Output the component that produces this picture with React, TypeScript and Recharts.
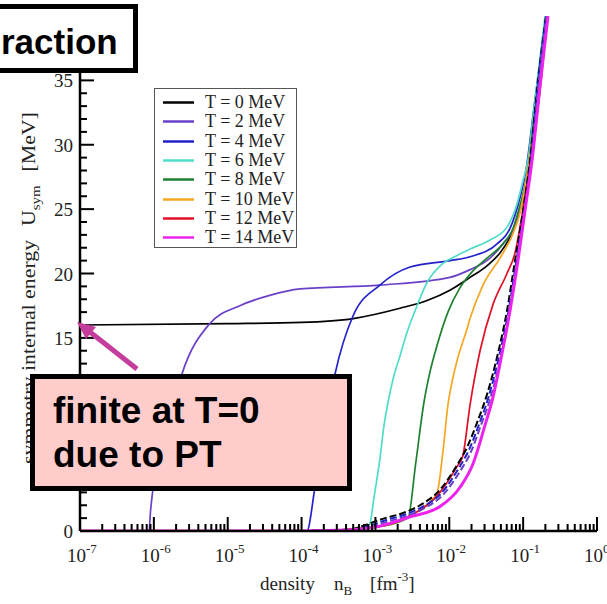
import React from "react";
import { LineChart, Line, XAxis, YAxis, Legend } from "recharts";

// density n_B [fm^-3] vs symmetry internal energy U_sym [MeV]
const t0 = [[1e-7, 16.0], [1e-5, 16.1], [1e-4, 16.2], [5e-4, 16.5], [2.15e-3, 17.3], [5e-3, 17.9], [0.0102, 18.7], [0.0191, 19.7], [0.0324, 20.6], [0.0486, 21.6], [0.0664, 22.8], [0.0851, 24.3], [0.106, 26.4], [0.132, 29.5], [0.162, 33.4], [0.204, 40]];
const t2 = [[1e-7, 0], [8.6e-7, 0], [9.0e-7, 1.5], [9.7e-7, 3.2], [1.4e-6, 7.0], [2.4e-6, 12.2], [5.7e-6, 16.1], [1.46e-5, 17.5], [3.7e-5, 18.3], [9.5e-5, 18.8], [1.15e-3, 19.1], [0.0102, 19.7], [0.0191, 20.3], [0.0356, 21.2], [0.0533, 22.3], [0.0776, 23.7], [0.0964, 25.7], [0.124, 28.8], [0.159, 33.4], [0.204, 40]];
const t4 = [[1e-7, 0], [1.18e-4, 0], [1.52e-4, 3.4], [2.0e-4, 7.5], [2.84e-4, 12.2], [4.97e-4, 16.7], [1.15e-3, 19.1], [2.94e-3, 20.5], [0.0102, 21.0], [0.0191, 21.3], [0.0443, 22.3], [0.0664, 23.5], [0.0851, 25.3], [0.109, 28.0], [0.144, 33.4], [0.204, 40]];
const t6 = [[1e-7, 0], [1e-4, 0], [7.0e-4, 0.2], [8.43e-4, 0.6], [9.5e-4, 2.5], [1.15e-3, 5.6], [1.3e-3, 8.1], [1.48e-3, 10.0], [1.75e-3, 11.9], [2.15e-3, 13.6], [2.7e-3, 15.5], [3.44e-3, 17.1], [4.99e-3, 19.3], [7.5e-3, 20.6], [0.0127, 21.4], [0.0191, 21.9], [0.0356, 22.6], [0.0604, 23.6], [0.0826, 25.4], [0.0995, 27.2], [0.116, 28.8], [0.144, 33.4], [0.198, 40]];
const t8 = [[1e-7, 0], [1e-4, 0], [1e-3, 0.3], [2.76e-3, 1.0], [3.5e-3, 5.2], [4.54e-3, 10.0], [5.5e-3, 12.4], [6.82e-3, 14.4], [9.59e-3, 17.0], [0.014, 18.9], [0.0209, 20.2], [0.0324, 21.2], [0.0533, 22.3], [0.0728, 23.5], [0.0906, 25.3], [0.113, 27.6], [0.144, 32.6], [0.204, 40]];
const t10 = [[1e-7, 0], [1e-4, 0], [1e-3, 0.3], [3e-3, 1.2], [6.0e-3, 2.5], [6.82e-3, 2.9], [8.22e-3, 6.2], [9.59e-3, 9.8], [0.0112, 11.9], [0.0127, 13.2], [0.0174, 15.7], [0.0191, 16.5], [0.0286, 19.1], [0.0486, 21.2], [0.0728, 23.1], [0.0906, 24.7], [0.106, 26.7], [0.132, 30.3], [0.169, 35.0], [0.21, 40]];
const t12 = [[1e-7, 0], [1e-4, 0], [1e-3, 0.3], [3e-3, 1.2], [7.5e-3, 3.0], [0.0127, 5.0], [0.0152, 5.8], [0.0191, 9.8], [0.0261, 14.0], [0.0391, 17.6], [0.0604, 20.0], [0.0776, 21.6], [0.0906, 23.6], [0.109, 26.4], [0.136, 30.3], [0.169, 34.2], [0.21, 40]];
const t14 = [[1e-7, 0], [1e-4, 0], [3e-4, 0.05], [9.86e-4, 0.3], [2.94e-3, 1.1], [7.48e-3, 1.9], [0.014, 3.4], [0.0209, 5.2], [0.0304, 8.2], [0.0391, 10.4], [0.0486, 13.0], [0.0664, 17.1], [0.0851, 21.0], [0.106, 24.9], [0.132, 28.8], [0.169, 34.5], [0.217, 40]];

// dashed curves (no phase transition)
const dashBlack = [[1e-4, 0], [4e-4, 0.1], [1.35e-3, 1.0], [2.36e-3, 1.4], [4.01e-3, 2.0], [7.48e-3, 3.2], [0.0127, 5.1], [0.0174, 6.5], [0.0237, 8.4], [0.0324, 10.6], [0.0443, 13.5], [0.0604, 17.1], [0.0776, 21.0], [0.0964, 24.3], [0.124, 28.8], [0.159, 35], [0.204, 40]];
const dashBlue = [[1e-4, 0], [5e-4, 0.1], [1.48e-3, 0.9], [2.6e-3, 1.3], [4.4e-3, 1.9], [8.0e-3, 3.0], [0.0135, 4.9], [0.0185, 6.3], [0.025, 8.2], [0.034, 10.4], [0.046, 13.3], [0.063, 17.0], [0.08, 20.8], [0.099, 24.2], [0.126, 28.6], [0.161, 35], [0.206, 40]];
const dashPurple = [[1e-4, 0], [6e-4, 0.1], [1.6e-3, 0.8], [2.8e-3, 1.2], [4.7e-3, 1.8], [8.5e-3, 2.9], [0.0142, 4.7], [0.0195, 6.1], [0.026, 8.0], [0.0355, 10.2], [0.048, 13.1], [0.065, 16.9], [0.082, 20.7], [0.101, 24.1], [0.128, 28.6], [0.163, 35], [0.207, 40]];

const seriesNames = ["T = 0 MeV", "T = 2 MeV", "T = 4 MeV", "T = 6 MeV", "T = 8 MeV", "T = 10 MeV", "T = 12 MeV", "T = 14 MeV"];
const seriesColors = ["#000000", "#6a40c8", "#2222cc", "#50dcc8", "#1f8030", "#f5a623", "#e01028", "#ee22ee"];
const seriesData = [t0, t2, t4, t6, t8, t10, t12, t14];

const xDecades = [1e-7, 1e-6, 1e-5, 1e-4, 1e-3, 1e-2, 1e-1, 1];
const xExponents = ["-7", "-6", "-5", "-4", "-3", "-2", "-1", "0"];
// 40 sits under the boxed title in the reference, so it is not labelled
const yLabels = [0, 5, 10, 15, 20, 25, 30, 35];

const xTicks: number[] = [];
xDecades.forEach((d, i) => {
  xTicks.push(d);
  if (i < xDecades.length - 1) for (let k = 2; k <= 9; k++) xTicks.push(d * k);
});
const yTicks: number[] = [];
for (let v = 0; v <= 40; v++) yTicks.push(v);

const pts = (rows: number[][]) => rows.map(([n, u]) => ({ n, u }));

const serif = '"Liberation Serif", "Times New Roman", serif';
const sans = '"Liberation Sans", Arial, sans-serif';

const XTick = (props: any) => {
  const { x, y, payload, top } = props;
  const i = xDecades.indexOf(payload.value);
  const len = i >= 0 ? 14 : 7;
  if (top) return <line x1={x} x2={x} y1={y} y2={y + len} stroke="#000" strokeWidth={2} />;
  return (
    <g>
      <line x1={x} x2={x} y1={y} y2={y - len} stroke="#000" strokeWidth={2} />
      {i >= 0 && (
        <text x={x - 13} y={y + 31} fontFamily={serif} fontSize={19} fill="#222">
          <tspan>10</tspan>
          <tspan dy={-9} fontSize={13}>{xExponents[i]}</tspan>
        </text>
      )}
    </g>
  );
};

const YTick = (props: any) => {
  const { x, y, payload, right } = props;
  const major = payload.value % 5 === 0;
  const len = major ? 14 : 7;
  if (right) return <line x1={x} x2={x - len} y1={y} y2={y} stroke="#000" strokeWidth={2} />;
  return (
    <g>
      <line x1={x} x2={x + len} y1={y} y2={y} stroke="#000" strokeWidth={2} />
      {yLabels.includes(payload.value) && (
        <text x={x - 7} y={y + 7} textAnchor="end" fontFamily={serif} fontSize={19} fill="#222">
          {payload.value}
        </text>
      )}
    </g>
  );
};

const LegendBox = () => (
  <div style={{ border: "1px solid #555", background: "#fff", width: 141, height: 158, position: "relative", fontFamily: serif, fontSize: 18, color: "#222" }}>
    {seriesNames.map((name, i) => (
      <div key={name} style={{ position: "absolute", left: 0, top: 4 + i * 19.3, height: 19, display: "flex", alignItems: "center", whiteSpace: "nowrap" }}>
        <svg width={50} height={19}>
          <line x1={8} x2={39} y1={9.5} y2={9.5} stroke={seriesColors[i]} strokeWidth={2.5} />
        </svg>
        <span style={{ lineHeight: "19px" }}>{name}</span>
      </div>
    ))}
  </div>
);

const XLabel = (props: any) => {
  const { viewBox } = props;
  const y = viewBox.y + 59;
  return (
    <text x={260} y={y} fontFamily={serif} fontSize={19} fill="#222">
      <tspan>density</tspan>
      <tspan dx={19}>n</tspan>
      <tspan dy={5} fontSize={13}>B</tspan>
      <tspan dy={-5} dx={18}>[fm</tspan>
      <tspan dy={-9} fontSize={13}>-3</tspan>
      <tspan dy={9}>]</tspan>
    </text>
  );
};

export default function App() {
  return (
    <div style={{ position: "absolute", left: 0, top: 0, width: 607, height: 604, background: "#fff" }}>
      <LineChart width={607} height={604} margin={{ top: 16, right: 10, bottom: 0, left: 0 }}>
        <XAxis
          dataKey="n"
          type="number"
          scale="log"
          domain={[1e-7, 1]}
          allowDataOverflow
          ticks={xTicks}
          interval={0}
          height={73}
          tickLine={false}
          tickSize={0}
          tickMargin={0}
          axisLine={{ stroke: "#000", strokeWidth: 2.5 }}
          tick={(p: any) => <XTick {...p} />}
          label={<XLabel />}
        />
        <XAxis
          xAxisId="top"
          orientation="top"
          dataKey="n"
          type="number"
          scale="log"
          domain={[1e-7, 1]}
          allowDataOverflow
          ticks={xTicks}
          interval={0}
          height={0}
          tickLine={false}
          tickSize={0}
          tickMargin={0}
          axisLine={{ stroke: "#000", strokeWidth: 2.5 }}
          tick={(p: any) => <XTick {...p} top />}
        />
        <YAxis
          type="number"
          domain={[0, 40]}
          allowDataOverflow
          ticks={yTicks}
          interval={0}
          width={80}
          tickLine={false}
          tickSize={0}
          tickMargin={0}
          axisLine={{ stroke: "#000", strokeWidth: 2.5 }}
          tick={(p: any) => <YTick {...p} />}
        />
        <YAxis
          yAxisId="right"
          orientation="right"
          type="number"
          domain={[0, 40]}
          ticks={yTicks}
          interval={0}
          width={0}
          tickLine={false}
          tickSize={0}
          tickMargin={0}
          axisLine={{ stroke: "#000", strokeWidth: 2.5 }}
          tick={(p: any) => <YTick {...p} right />}
        />
        <Legend
          layout="vertical"
          align="center"
          verticalAlign="middle"
          content={<LegendBox />}
          wrapperStyle={{ left: 154, top: 88, width: 143, height: 160 }}
        />
        {seriesData.slice(0, 7).map((d, i) => (
          <Line
            key={seriesNames[i]}
            data={pts(d)}
            dataKey="u"
            name={seriesNames[i]}
            type="monotone"
            stroke={seriesColors[i]}
            strokeWidth={1.7}
            dot={false}
            isAnimationActive={false}
          />
        ))}
        <Line data={pts(dashBlack)} dataKey="u" name="dash0" legendType="none" type="monotone" stroke="#000" strokeWidth={2} strokeDasharray="7 3" dot={false} isAnimationActive={false} />
        <Line data={pts(dashBlue)} dataKey="u" name="dash4" legendType="none" type="monotone" stroke="#2222cc" strokeWidth={2} strokeDasharray="7 3" dot={false} isAnimationActive={false} />
        <Line data={pts(dashPurple)} dataKey="u" name="dash2" legendType="none" type="monotone" stroke="#6a40c8" strokeWidth={2} strokeDasharray="7 3" dot={false} isAnimationActive={false} />
        <Line
          data={pts(t14)}
          dataKey="u"
          name={seriesNames[7]}
          type="monotone"
          stroke={seriesColors[7]}
          strokeWidth={3}
          dot={false}
          isAnimationActive={false}
        />
      </LineChart>

      <svg width={607} height={604} style={{ position: "absolute", left: 0, top: 0, pointerEvents: "none" }}>
        <text transform="translate(35,288) rotate(-90) scale(1.15,1)" textAnchor="middle" fontFamily={serif} fontSize={19} fill="#222">
          <tspan>symmetry internal energy</tspan>
          <tspan dx={12}>U</tspan>
          <tspan dy={5} fontSize={13}>sym</tspan>
          <tspan dy={-5} dx={12}>[MeV]</tspan>
        </text>
        <rect x={-10} y={6.5} width={145.5} height={64} fill="#fff" stroke="#000" strokeWidth={5} />
        <text x={1} y={54} fontFamily={sans} fontWeight="bold" fontSize={35} fill="#000">raction</text>
        <line x1={137} y1={369} x2={90} y2={332} stroke="#c43c9c" strokeWidth={5} />
        <polygon points="77,322 96,327 86,339" fill="#c43c9c" />
        <rect x={32.5} y={376.5} width={317} height={112} fill="#ffcccc" stroke="#000" strokeWidth={5} />
        <text x={53} y={423} fontFamily={sans} fontWeight="bold" fontSize={37} fill="#000">finite at T=0</text>
        <text x={53} y={467} fontFamily={sans} fontWeight="bold" fontSize={37} fill="#000">due to PT</text>
      </svg>
    </div>
  );
}
